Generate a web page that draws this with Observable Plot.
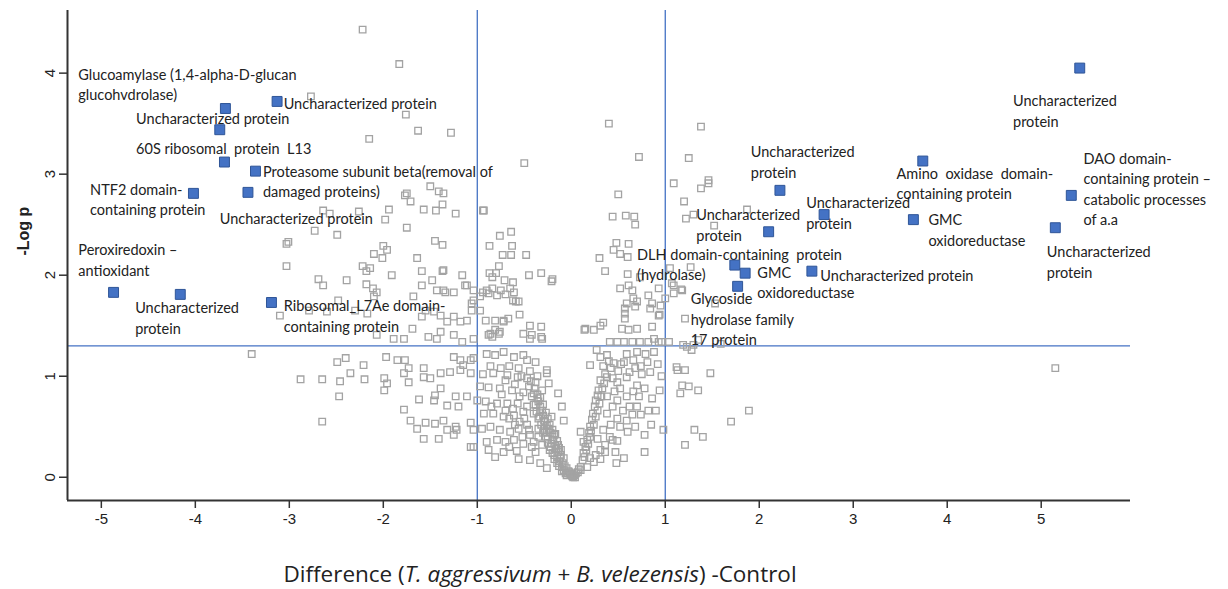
<!DOCTYPE html>
<html><head><meta charset="utf-8">
<script src="https://cdn.jsdelivr.net/npm/d3@7"></script>
<script src="https://cdn.jsdelivr.net/npm/@observablehq/plot@0.6"></script>
<style>
body{margin:0;background:#fff;}
#wrap{position:relative;width:1228px;height:589px;background:#fff;}
#xlabel{position:absolute;left:0;width:1080px;top:558px;text-align:center;font-family:"Open Sans",sans-serif;font-size:22.5px;color:#222;white-space:nowrap;}
</style></head><body>
<div id="wrap"><div id="chart"></div><div id="xlabel">Difference (<i>T. aggressivum</i> + <i>B. velezensis</i>) -Control</div></div>
<script>
// tick values
const xTicks = [-5,-4,-3,-2,-1,0,1,2,3,4,5];
const yTicks = [0,1,2,3,4];
const thresholdsX = [-1, 1];
const thresholdY = [1.3];

// highlighted (significant, annotated) proteins
const hitX = [-3.68,-3.13,-3.74,-3.69,-3.36,-4.02,-3.44,-4.87,-4.16,-3.19, 5.41,3.74,5.32,3.64,5.15,2.22,2.69,2.10,1.74,1.85,1.77,2.56];
const hitY = [ 3.65, 3.72, 3.44, 3.12, 3.03, 2.81, 2.82, 1.83, 1.81, 1.73, 4.05,3.13,2.79,2.55,2.47,2.84,2.60,2.43,2.10,2.02,1.89,2.04];

// annotation texts and their (data-space) top-left anchor
const labelText = [
  "Glucoamylase (1,4-alpha-D-glucan\nglucohvdrolase)",
  "Uncharacterized protein",
  "Uncharacterized protein",
  "60S ribosomal  protein  L13",
  "Proteasome subunit beta(removal of\ndamaged proteins)",
  "NTF2 domain-\ncontaining protein",
  "Uncharacterized protein",
  "Peroxiredoxin –\nantioxidant",
  "Uncharacterized\nprotein",
  "Ribosomal_L7Ae domain-\ncontaining protein",
  "Uncharacterized\nprotein",
  "Amino  oxidase  domain-\ncontaining protein",
  "DAO domain-\ncontaining protein –\ncatabolic processes\nof a.a",
  "GMC\noxidoreductase",
  "Uncharacterized\nprotein",
  "Uncharacterized\nprotein",
  "Uncharacterized\nprotein",
  "Uncharacterized\nprotein",
  "DLH domain-containing  protein\n(hydrolase)",
  "GMC\noxidoreductase",
  "Glycoside\nhydrolase family\n17 protein",
  "Uncharacterized protein"
];
const labelX = [-5.245,-4.63,-3.06,-4.63,-3.28,-5.12,-3.74,-5.245,-4.64,-3.06, 4.70,3.46,5.45,3.80,5.06,1.91,2.50,1.33,0.70,1.98,1.27,2.65];
const labelY = [ 4.08, 3.64, 3.79, 3.34, 3.12, 2.94, 2.65, 2.34, 1.77, 1.79, 3.82,3.10,3.25,2.64,2.32,3.31,2.81,2.69,2.30,2.12,1.86,2.09];

// all other proteins [difference, -log p]
const otherProteins = [
[-2.22,4.43],[-1.83,4.09],[-2.77,3.77],[-1.76,3.59],[-1.63,3.43],[-1.28,3.41],[-2.15,3.35],
[-1.50,2.88],[-1.41,2.83],[-1.75,2.81],[-1.77,2.79],[-1.71,2.73],[-1.37,2.70],[-1.57,2.65],[-1.44,2.64],[-1.23,2.61],[-1.94,2.65],[-2.26,2.63],[-2.64,2.64],[-2.57,2.61],[-1.98,2.55],[-0.94,2.64],[-1.75,2.47],[-2.73,2.44],[-2.49,2.40],[-3.03,2.31],[-3.01,2.33],[-1.45,2.34],[-1.37,2.30],[-2.00,2.29],[-2.10,2.21],[-2.01,2.17],[-1.96,2.25],[-1.64,2.17],[-3.03,2.09],[-2.22,2.09],[-2.18,2.04],[-2.14,2.07],[-1.91,2.00],[-1.59,2.04],[-1.37,2.04],[-1.16,2.00],[-2.69,1.96],[-2.64,1.90],[-2.39,1.95],[-2.18,1.91],[-2.11,1.87],[-2.07,1.83],[-2.10,1.79],[-1.68,1.79],[-1.59,1.90],[-1.48,1.95],[-1.43,1.85],[-1.34,1.83],[-1.25,1.83],[-1.11,1.90],[-1.04,1.85],[-2.48,1.75],[-2.30,1.65],[-2.17,1.62],[-3.10,1.60],[-2.79,1.65],[-2.60,1.64],[-1.55,1.65],[-1.39,1.60],[-1.32,1.54],[-1.25,1.59],[-1.18,1.54],[-1.11,1.55],[-1.06,1.65],[-1.06,1.72],[-0.97,1.79],[-1.89,1.37],[-1.78,1.37],[-2.07,1.41],[-1.52,1.39],[-1.43,1.37],[-1.39,1.44],[-1.25,1.41],[-1.16,1.34],[-1.04,1.37],[-1.69,1.47],[-1.59,1.59],[-1.46,1.64],[-1.36,2.81],[-1.36,2.05],[-1.36,1.85],[-1.13,1.90],[-0.50,3.11],[-0.93,2.64],
[-0.64,2.43],[-0.76,2.39],[-0.87,2.29],[-0.63,2.29],[-0.73,2.20],[-0.64,2.20],[-0.48,2.20],[-0.77,2.09],[-0.87,2.02],[-0.80,2.02],[-0.45,2.00],[-0.32,2.02],[-0.20,1.96],[-0.84,1.98],[-0.71,1.95],[-0.62,1.93],[-0.21,1.94],[-0.90,1.85],[-0.84,1.87],[-0.75,1.85],[-0.65,1.87],[-0.61,1.83],[-0.94,1.83],[-0.88,1.82],[-0.79,1.80],[-0.70,1.81],[-0.62,1.75],[-0.56,1.74],[-0.97,1.65],[-0.91,1.55],[-0.81,1.55],[-0.72,1.55],[-0.67,1.57],[-0.55,1.61],[-0.44,1.50],[-0.32,1.49],[-0.81,1.46],[-0.88,1.41],[-0.84,1.39],[-0.77,1.42],[-0.51,1.42],[-0.42,1.41],[-0.32,1.39],[-0.44,1.37],[-0.31,1.37],[-0.59,1.74],[-0.72,1.54],[-1.04,1.75],[-0.86,1.42],[-0.76,1.44],
[0.40,3.50],[1.38,3.47],[0.72,3.17],[1.25,3.16],[1.09,2.91],[1.46,2.94],[1.38,2.86],[1.46,2.91],[0.50,2.80],[1.20,2.73],[0.44,2.58],[0.58,2.59],[0.67,2.58],[0.68,2.50],[1.22,2.56],[1.30,2.60],[1.52,2.49],[1.87,2.65],[0.48,2.32],[0.61,2.31],[0.45,2.25],[0.52,2.21],[0.60,2.18],[0.30,2.17],[0.36,2.04],[0.60,2.01],[1.05,2.07],[1.27,2.08],[0.52,1.87],[0.61,1.90],[0.65,1.85],[0.66,1.77],[0.70,1.74],[0.82,1.80],[0.86,1.72],[0.95,1.70],[1.00,1.77],[1.09,1.90],[1.09,1.82],[1.18,1.85],[0.57,1.67],[0.68,1.69],[0.57,1.57],[0.84,1.67],[0.93,1.60],[1.21,1.57],[0.15,1.47],[0.24,1.46],[0.31,1.50],[0.54,1.47],[0.61,1.46],[0.70,1.47],[0.86,1.49],[0.41,1.34],[0.49,1.34],[0.56,1.34],[0.65,1.34],[0.73,1.34],[0.82,1.34],[0.93,1.34],[1.04,1.34],[1.19,1.31],[1.30,1.31],[0.34,1.53],[1.23,1.29],[1.28,1.26],[1.35,1.36],[1.53,1.72],[0.73,1.98],[1.07,1.92],[1.17,1.86],[0.93,1.87],[0.59,1.72],[0.57,1.62],[0.94,1.61],[0.88,1.37],[0.96,1.34],[1.59,1.32],[0.14,1.46],
[-3.40,1.22],[-2.88,0.97],[-2.65,0.97],[-2.46,0.95],[-2.35,1.03],[-2.21,1.11],[-2.20,0.97],[-2.40,1.18],[-2.49,1.14],[-2.47,0.80],[-2.65,0.55],[-1.97,1.19],[-1.99,0.98],[-1.96,0.93],[-1.99,0.86],[-1.85,1.16],[-1.77,1.16],[-1.57,1.08],[-1.73,1.08],[-1.78,1.03],[-1.73,0.94],[-1.57,0.99],[-1.50,0.98],[-1.39,1.03],[-1.39,0.88],[-1.45,0.81],[-1.29,1.04],[-1.18,1.06],[-1.07,1.03],[-1.62,0.77],[-1.46,0.76],[-1.32,0.71],[-1.23,0.80],[-1.11,0.80],[-1.20,0.70],[-1.00,0.76],[-1.78,0.67],[-1.71,0.56],[-1.64,0.48],[-1.55,0.54],[-1.45,0.53],[-1.36,0.56],[-1.32,0.47],[-1.23,0.50],[-1.22,0.47],[-1.07,0.54],[-1.04,0.47],[-1.57,0.38],[-1.41,0.38],[-1.25,0.42],[-1.07,0.30],[-1.04,0.30],[-1.25,1.19],[-1.18,1.16],[-1.15,1.11],[-1.07,1.16],[-1.04,1.18],
[-0.90,1.22],[-0.81,1.21],[-0.72,1.24],[-0.61,1.19],[-0.51,1.21],[-0.47,1.16],[-0.38,1.14],[-0.26,1.06],
[-0.83,1.03],[-0.68,1.01],[-0.57,0.99],[-0.47,0.98],[-0.38,0.94],[-0.26,1.03],[-0.24,0.93],
[-0.88,0.89],[-0.76,0.88],[-0.63,0.86],[-0.51,0.84],[-0.40,0.83],[-0.31,0.86],[-0.14,0.83],[-0.10,0.70],
[-0.91,0.75],[-0.79,0.73],[-0.68,0.73],[-0.57,0.73],[-0.47,0.70],[-0.35,0.75],
[-0.93,0.63],[-0.83,0.63],[-0.72,0.60],[-0.61,0.61],[-0.51,0.65],[-0.40,0.63],[-0.33,0.66],[-0.29,0.56],[-0.21,0.60],[-0.08,0.56],
[-0.95,0.48],[-0.86,0.50],[-0.76,0.47],[-0.65,0.45],[-0.56,0.48],[-0.45,0.47],[-0.35,0.48],[-0.26,0.45],[-0.17,0.43],
[-0.90,0.35],[-0.79,0.37],[-0.70,0.35],[-0.61,0.37],[-0.51,0.33],[-0.40,0.35],[-0.31,0.32],[-0.22,0.30],[-0.14,0.32],
[-0.81,0.20],[-0.56,0.18],[-0.44,0.17],[-0.33,0.14],[-0.26,0.09],[-0.15,0.14],[-0.08,0.07],[-0.05,0.02],[0.02,0.00],[0.10,0.07],[0.17,0.10],[0.24,0.15],[0.31,0.18],[0.36,0.25],
[-0.33,0.70],[-0.30,0.61],[-0.26,0.51],[-0.22,0.44],[-0.19,0.37],[-0.17,0.31],[-0.14,0.25],[-0.12,0.19],[-0.09,0.14],[-0.05,0.09],[-0.03,0.06],[-0.01,0.03],[0.01,0.01],
[-0.36,0.78],[-0.31,0.66],[-0.28,0.55],[-0.24,0.48],[-0.20,0.40],[-0.16,0.28],[-0.11,0.22],[-0.07,0.11],[0.03,0.02],[0.05,0.04],[-0.02,0.05],[0.07,0.05],
[-0.38,0.72],[-0.34,0.60],[-0.29,0.48],[-0.25,0.38],[-0.21,0.33],[-0.18,0.22],[-0.13,0.16],[-0.10,0.10],[-0.04,0.04],[0.00,0.03],[0.04,0.00],
[-0.45,0.90],[-0.42,0.80],[-0.40,0.72],[-0.37,0.65],[-0.35,0.58],[-0.32,0.52],[-0.30,0.44],[-0.27,0.40],[-0.25,0.34],[-0.23,0.27],[-0.20,0.24],[-0.18,0.18],[-0.15,0.20],[-0.13,0.11],[-0.10,0.06],[-0.06,0.04],
[-0.43,0.95],[-0.39,0.88],[-0.36,0.82],[-0.33,0.79],[-0.30,0.72],[-0.27,0.64],[-0.25,0.58],[-0.23,0.52],[-0.20,0.47],[-0.18,0.42],[-0.15,0.36],[-0.13,0.29],[-0.11,0.27],[-0.08,0.19],
[-0.55,0.55],[-0.50,0.58],[-0.47,0.52],[-0.44,0.42],[-0.42,0.30],[-0.38,0.25],[-0.35,0.40],[-0.52,0.40],[-0.60,0.52],[-0.66,0.58],[-0.70,0.66],[-0.62,0.68],[-0.55,0.80],[-0.60,0.92],[-0.53,1.00],[-0.70,0.96],[-0.75,1.08],[-0.66,1.10],[-0.56,1.08],[-0.44,1.05],[-0.36,1.00],[-0.86,1.10],[-0.94,1.02],[-0.97,0.90],[-0.85,0.70],[-0.74,0.82],[-0.66,0.30],[-0.58,0.26],[-0.72,0.25],[-0.88,0.27],
[0.10,0.10],[0.13,0.24],[0.17,0.37],[0.20,0.50],[0.23,0.63],[0.26,0.76],[0.29,0.86],[0.31,0.96],[0.12,0.17],[0.15,0.30],[0.19,0.44],[0.22,0.57],[0.25,0.70],[0.28,0.81],[0.08,0.08],
[0.14,0.20],[0.16,0.27],[0.18,0.33],[0.21,0.46],[0.24,0.52],[0.26,0.60],[0.28,0.66],[0.30,0.73],[0.32,0.80],[0.33,0.88],[0.35,0.93],[0.36,1.02],[0.34,1.10],[0.40,1.15],
[0.38,0.99],[0.49,0.94],[0.59,0.99],[0.70,0.91],[0.38,0.80],[0.49,0.76],[0.59,0.80],[0.70,0.70],[0.38,0.63],[0.49,0.58],[0.59,0.56],[0.34,0.47],[0.41,0.40],[0.31,0.27],[0.10,0.45],[0.13,0.35],[0.20,0.40],
[0.44,0.70],[0.46,0.85],[0.52,0.88],[0.55,0.66],[0.62,0.70],[0.65,0.62],[0.66,0.85],[0.72,0.80],[0.74,0.62],[0.52,0.50],[0.42,0.52],[0.60,0.45],[0.68,0.50],[0.28,0.38],[0.36,0.32],[0.26,0.22],[0.20,0.19],
[0.44,0.98],[0.53,1.12],[0.66,1.16],[0.74,1.10],[0.84,1.04],[0.92,1.12],[0.96,1.00],[0.86,0.78],[0.82,0.66],
[0.78,0.88],[0.94,0.86],[0.90,0.66],[0.85,0.52],[0.98,0.47],[0.78,0.42],[0.78,0.25],[0.56,0.19],[0.48,0.14],[0.47,0.25],[0.49,0.36],[0.44,0.37],
[1.18,0.91],[1.25,0.90],[1.35,0.86],[1.16,0.83],[1.48,1.03],[1.13,1.06],[1.70,0.55],[1.31,0.47],[1.40,0.40],[1.21,0.32],[1.89,0.66],[5.15,1.08],
[0.27,1.26],[0.31,1.19],[0.38,1.21],[0.20,1.11],[0.45,1.13],[0.56,1.14],[0.59,1.22],[0.70,1.24],[0.79,1.22],[0.88,1.24],[0.81,1.14],[0.68,1.08],[1.12,1.09],[1.21,1.06],[0.50,1.05],[0.62,1.04],[0.75,1.02],[0.42,1.08]
];

const hits = hitX.map((x, i) => ({x, y: hitY[i]}));
const labels = labelText.map((t, i) => ({t, x: labelX[i], y: labelY[i]}));
const xDomain = [-5.36, 5.95];
const yDomain = [-0.23, 4.62];

const blue = "#4472C4";
const chart = Plot.plot({
  width: 1228, height: 540,
  marginLeft: 67, marginRight: 98, marginTop: 10, marginBottom: 40,
  x: {domain: xDomain},
  y: {domain: yDomain},
  style: {fontFamily: "'Liberation Sans', Arial, sans-serif", fontSize: "15px", color: "#222", background: "#fff"},
  marks: [
    Plot.ruleX(thresholdsX, {stroke: blue, strokeWidth: 1.3}),
    Plot.ruleY(thresholdY, {stroke: blue, strokeWidth: 1.3}),
    Plot.dot(otherProteins, {x: d => d[0], y: d => d[1], symbol: "square", r: 3.7, stroke: "#a3a3a3", strokeWidth: 1.3, fill: "none"}),
    Plot.text(labels, {x: "x", y: "y", text: "t", textAnchor: "start", lineAnchor: "top", lineHeight: 1.42,
      fontSize: 14.5, fontFamily: "Lato, 'Open Sans', sans-serif", fill: "#222"}),
    Plot.dot(hits, {x: "x", y: "y", symbol: "square", r: 5.6, fill: blue, stroke: "#2F5597", strokeWidth: 1}),
    Plot.ruleX([xDomain[0]], {stroke: "#333", strokeWidth: 2}),
    Plot.ruleY([yDomain[0]], {stroke: "#333", strokeWidth: 2}),
    Plot.axisX(xTicks, {tickSize: 8, tickPadding: 5, tickFormat: d => String(d), stroke: "#333", strokeWidth: 1.5, label: null}),
    Plot.axisY(yTicks, {tickSize: 8, tickPadding: 5, tickRotate: -90, tickFormat: d => String(d), stroke: "#333", strokeWidth: 1.5, label: null}),
    Plot.text(["-Log p"], {frameAnchor: "left", dx: -44, rotate: -90, fontSize: 16, fontWeight: "bold", fill: "#222"})
  ]
});
document.getElementById("chart").appendChild(chart);
</script>
</body></html>
